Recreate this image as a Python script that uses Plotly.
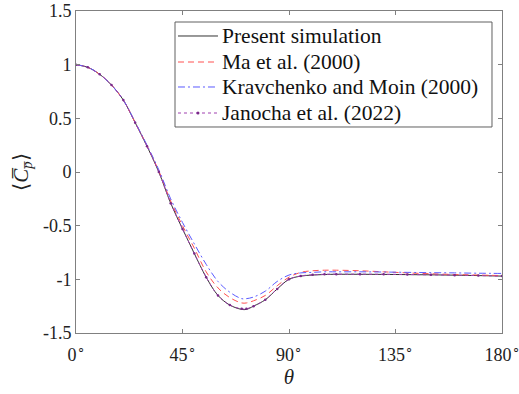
import plotly.graph_objects as go

theta = [0, 5, 10, 15, 20, 25, 30, 35, 40, 45, 50, 55, 60, 65, 70, 72, 75, 80, 85, 90,
         95, 100, 105, 110, 120, 130, 140, 150, 160, 170, 180]

cp_present = [1.0, 0.975, 0.91, 0.81, 0.67, 0.46, 0.24, 0.0, -0.29, -0.53, -0.76, -0.98,
              -1.15, -1.24, -1.28, -1.28, -1.25, -1.19, -1.09, -1.0,
              -0.97, -0.96, -0.955, -0.953, -0.953, -0.954, -0.956, -0.958, -0.961, -0.965, -0.97]
cp_ma = [1.0, 0.975, 0.91, 0.81, 0.67, 0.46, 0.245, 0.01, -0.27, -0.50, -0.71, -0.93,
         -1.08, -1.17, -1.22, -1.22, -1.20, -1.15, -1.06, -0.98,
         -0.935, -0.92, -0.915, -0.915, -0.92, -0.93, -0.94, -0.948, -0.955, -0.96, -0.965]
cp_km = [1.0, 0.975, 0.91, 0.81, 0.67, 0.465, 0.25, 0.02, -0.25, -0.47, -0.67, -0.86,
         -1.02, -1.12, -1.18, -1.18, -1.165, -1.11, -1.02, -0.96,
         -0.94, -0.935, -0.93, -0.93, -0.93, -0.932, -0.935, -0.938, -0.94, -0.943, -0.945]
cp_janocha = [1.0, 0.975, 0.91, 0.81, 0.67, 0.46, 0.24, 0.0, -0.29, -0.53, -0.76, -0.98,
              -1.15, -1.24, -1.275, -1.275, -1.25, -1.19, -1.09, -1.0,
              -0.968, -0.958, -0.953, -0.952, -0.952, -0.953, -0.955, -0.958, -0.961, -0.965, -0.97]

names = ["Present simulation", "Ma et al. (2000)", "Kravchenko and Moin (2000)", "Janocha et al. (2022)"]

xtick_vals = [0, 45, 90, 135, 180]
xtick_text = ["0<sup>∘</sup>", "45<sup>∘</sup>", "90<sup>∘</sup>", "135<sup>∘</sup>", "180<sup>∘</sup>"]
ytick_vals = [-1.5, -1, -0.5, 0, 0.5, 1, 1.5]
ytick_text = ["-1.5", "-1", "-0.5", "0", "0.5", "1", "1.5"]

FONT = "Liberation Serif"
styles = [
    dict(color="#333333", width=1, dash="solid"),
    dict(color="#ff5050", width=1, dash="6px,4px"),
    dict(color="#5a5aff", width=1, dash="7px,3px,2px,3px"),
    dict(color="#a040b0", width=1, dash="dot"),
]
series = [cp_present, cp_ma, cp_km, cp_janocha]

fig = go.Figure()
for i, (nm, ys, st) in enumerate(zip(names, series, styles)):
    fig.add_trace(go.Scatter(x=theta, y=ys, name=nm,
                             mode="lines+markers" if i == 3 else "lines",
                             line=dict(shape="spline", **st),
                             marker=dict(color="#7a2a8a", size=2.5),
                             showlegend=False))

# Manual legend (box, samples, labels) in paper coordinates
box = dict(x0=0.2324, x1=0.9765, y0=0.6398, y1=0.9658)
fig.add_shape(type="rect", xref="paper", yref="paper", line=dict(color="#606060", width=1),
              fillcolor="white", layer="above", **box)
row_y = [0.9224, 0.8416, 0.7640, 0.6832]
sx0, sx1, tx = 0.2394, 0.3333, 0.338
for nm, st, yy in zip(names, styles, row_y):
    fig.add_shape(type="line", xref="paper", yref="paper", x0=sx0, x1=sx1, y0=yy, y1=yy,
                  line=st, layer="above")
    fig.add_annotation(x=tx, y=yy, xref="paper", yref="paper", xanchor="left", yanchor="middle",
                       text=nm, showarrow=False, font=dict(family=FONT, size=21.5, color="#111111"))
mx = (sx0 + sx1) / 2
fig.add_shape(type="circle", xref="paper", yref="paper",
              x0=mx - 0.0035, x1=mx + 0.0035, y0=row_y[3] - 0.0047, y1=row_y[3] + 0.0047,
              fillcolor="#7a2a8a", line=dict(color="#7a2a8a", width=0), layer="above")

axis_common = dict(showline=True, linecolor="#808080", linewidth=1, mirror="ticks",
                   ticks="inside", ticklen=4, tickcolor="#808080", showgrid=False, zeroline=False,
                   automargin=False, ticklabeloverflow="allow",
                   tickfont=dict(family=FONT, size=18, color="#222222"))

fig.update_layout(
    font=dict(family=FONT, size=18, color="#222222"),
    width=519, height=394,
    margin=dict(l=76, r=17, t=11, b=61, autoexpand=False),
    paper_bgcolor="white", plot_bgcolor="white",
    showlegend=False,
    xaxis=dict(range=[0, 180], tickvals=xtick_vals, ticktext=xtick_text, ticklabelstandoff=5,
               title=dict(text="<i>θ</i>", font=dict(family=FONT, size=21, color="#222222"), standoff=2),
               **axis_common),
    yaxis=dict(range=[-1.5, 1.5], tickvals=ytick_vals, ticktext=ytick_text,
               title=dict(text="⟨<i>C̅<sub>p̅</sub></i>⟩", font=dict(family=FONT, size=21, color="#222222"),
                          standoff=8),
               **axis_common),
)

fig.write_html("out.html")
